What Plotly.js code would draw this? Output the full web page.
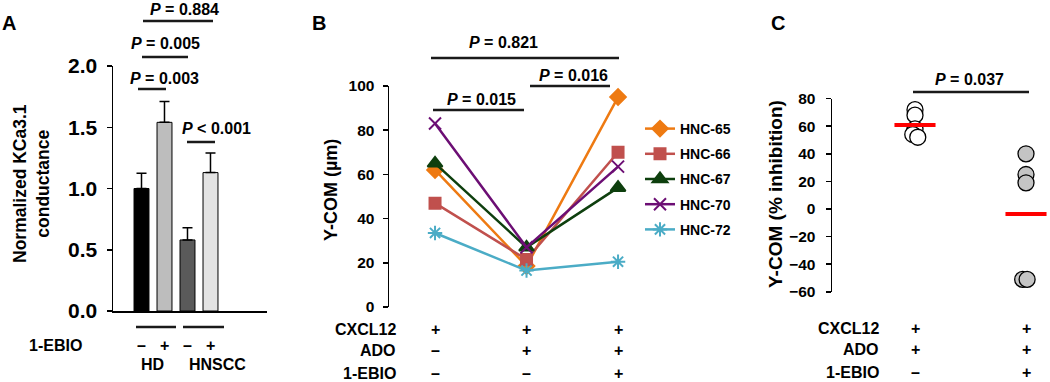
<!DOCTYPE html>
<html><head><meta charset="utf-8">
<script src="https://cdn.plot.ly/plotly-3.0.1.min.js"></script>
<style>html,body{margin:0;padding:0;background:#fff}#chart{width:1050px;height:382px}</style>
</head><body><div id="chart"></div>
<script>
// ---------- Panel A data ----------
const groupsA = ['HD', 'HNSCC'];
const ebioA = ['–', '+', '–', '+'];
const conductance = [1.00, 1.54, 0.58, 1.13];
const conductanceErr = [0.125, 0.17, 0.10, 0.16];
const ticksA = [0, 0.5, 1.0, 1.5, 2.0];
const pLabelsA = ['<i>P</i> = 0.884', '<i>P</i> = 0.005', '<i>P</i> = 0.003', '<i>P</i> < 0.001'];

// ---------- Panel B data ----------
const seriesNames = ['HNC-65', 'HNC-66', 'HNC-67', 'HNC-70', 'HNC-72'];
const hnc65 = [62, 18.5, 95];
const hnc66 = [47, 21.5, 70];
const hnc67 = [65, 27, 54];
const hnc70 = [83, 27, 63.5];
const hnc72 = [33.5, 16.5, 20.5];
const ticksB = [0, 20, 40, 60, 80, 100];
const rowLabels = ['CXCL12', 'ADO', '1-EBIO'];
const cxcl12B = ['+', '+', '+'];
const adoB = ['–', '+', '+'];
const ebioB = ['–', '–', '+'];
const pLabelsB = ['<i>P</i> = 0.821', '<i>P</i> = 0.015', '<i>P</i> = 0.016'];

// ---------- Panel C data ----------
const inhibitionAdo = [72, 68, 58, 54, 52];
const inhibitionAdoEbio = [40, 25, 19, -51, -51];
const jitterAdo = [0, 0, 0, -0.02, 0.025];
const jitterAdoEbio = [0, 0, 0, -0.03, 0.01];
const ticksC = [-60, -40, -20, 0, 20, 40, 60, 80];
const cxcl12C = ['+', '+'];
const adoC = ['+', '+'];
const ebioC = ['–', '+'];
const pLabelsC = ['<i>P</i> = 0.037'];

// ---------- helpers (pixel -> paper) ----------
const W = 1050, H = 382;
const X = px => px / W;
const Y = py => 1 - py / H;
const FONT = 'Liberation Sans, Arial, Helvetica, sans-serif';
const mean = a => a.reduce((s, v) => s + v, 0) / a.length;
const boldTick = (v, d) => '<b>' + (v < 0 ? '−' + Math.abs(v).toFixed(d) : v.toFixed(d)) + '</b>';

const traces = [];

// Panel A bars
const idxA = conductance.map((_, i) => i);
traces.push({
  type: 'bar', x: idxA, y: conductance, xaxis: 'x', yaxis: 'y', width: 0.65,
  marker: {color: ['#000000', '#bdbdbd', '#5a5a5a', '#e3e3e3'], line: {color: '#000', width: 1}},
  error_y: {type: 'data', symmetric: false, array: conductanceErr, arrayminus: conductance.map(() => 0),
            color: '#000', thickness: 1.5, width: 5},
  showlegend: false, hoverinfo: 'skip'
});

// Panel B lines
const xB = [1, 2, 3];
const seriesB = [hnc65, hnc66, hnc67, hnc70, hnc72];
const colorsB = ['#EE7A12', '#C0504D', '#0E3F0E', '#6C0E74', '#4BACC6'];
const symbolsB = ['diamond', 'square', 'triangle-up', 'x-thin-open', 'asterisk-open'];
const sizesB = [12, 11, 13, 12, 12];
seriesB.forEach((s, i) => {
  traces.push({
    type: 'scatter', mode: 'lines+markers', x: xB, y: s, xaxis: 'x2', yaxis: 'y2',
    name: '<b>' + seriesNames[i] + '</b>', legendgroup: 'g' + i, cliponaxis: false,
    line: {color: colorsB[i], width: 2.5},
    marker: {symbol: symbolsB[i], size: sizesB[i], color: colorsB[i], line: {color: colorsB[i], width: 2}},
    hoverinfo: 'skip'
  });
});

// Panel C points
traces.push({
  type: 'scatter', mode: 'markers', x: inhibitionAdo.map((_, i) => 1 + jitterAdo[i]), y: inhibitionAdo,
  xaxis: 'x3', yaxis: 'y3', showlegend: false, cliponaxis: false,
  marker: {size: 16, color: '#ffffff', line: {color: '#000', width: 1.3}}, hoverinfo: 'skip'
});
traces.push({
  type: 'scatter', mode: 'markers', x: inhibitionAdoEbio.map((_, i) => 2 + jitterAdoEbio[i]), y: inhibitionAdoEbio,
  xaxis: 'x3', yaxis: 'y3', showlegend: false, cliponaxis: false,
  marker: {size: 16, color: '#c4c4c4', line: {color: '#000', width: 1.3}}, hoverinfo: 'skip'
});
// mean lines
[[1, inhibitionAdo], [2, inhibitionAdoEbio]].forEach(([c, arr]) => {
  const m = mean(arr);
  traces.push({
    type: 'scatter', mode: 'lines', x: [c - 0.185, c + 0.185], y: [m, m], xaxis: 'x3', yaxis: 'y3',
    showlegend: false, cliponaxis: false, line: {color: '#ff0000', width: 4}, hoverinfo: 'skip'
  });
});

// ---------- annotations & shapes ----------
const ann = [];
const shapes = [];
const fnt = size => ({family: FONT, size: size, color: '#000', weight: 'bold'});
function txt(x, y, text, size, opts) {
  ann.push(Object.assign({x: x, y: y, xref: 'paper', yref: 'paper', text: '<b>' + text + '</b>', showarrow: false,
    xanchor: 'center', yanchor: 'middle', font: fnt(size)}, opts || {}));
}
function hline(x0, x1, y, w) {
  shapes.push({type: 'line', xref: 'paper', yref: 'paper', x0: X(x0), x1: X(x1), y0: Y(y), y1: Y(y),
    line: {color: '#1a1a1a', width: w || 2.5}});
}
function axTxt(xref, x, y, text, opts) {
  ann.push(Object.assign({x: x, y: y, xref: xref, yref: 'paper', text: '<b>' + text + '</b>', showarrow: false,
    xanchor: 'center', yanchor: 'middle', font: fnt(16)}, opts || {}));
}

// panel letters
txt(X(9), Y(23), 'A', 20);
txt(X(319), Y(23), 'B', 20);
txt(X(778), Y(23), 'C', 20);

// axis titles
txt(X(31), Y(184), 'Normalized KCa3.1<br>conductance', 17.5, {textangle: -90});
txt(X(331), Y(190), 'Y-COM (µm)', 18, {textangle: -90});
txt(X(775), Y(194), 'Y-COM (% inhibition)', 19, {textangle: -90});

// P-values panel A
txt(X(184), Y(10), pLabelsA[0], 16); hline(143, 213, 21);
txt(X(165), Y(43), pLabelsA[1], 16); hline(142, 188, 57);
txt(X(164), Y(78), pLabelsA[2], 16); hline(138, 166, 89);
txt(X(216), Y(128), pLabelsA[3], 16); hline(187, 215, 142);
// P-values panel B
txt(X(503), Y(42), pLabelsB[0], 16); hline(431, 619, 58);
txt(X(481), Y(99), pLabelsB[1], 16); hline(433, 524, 110);
txt(X(573), Y(75), pLabelsB[2], 16); hline(530, 610, 86);
// P-value panel C
txt(X(969), Y(79), pLabelsC[0], 16); hline(913, 1029, 92);

// Panel A treatment rows
txt(X(55), Y(345), '1-EBIO', 16);
ebioA.forEach((s, i) => axTxt('x', i, Y(345), s));
axTxt('x', 0.5, Y(364), groupsA[0]);
axTxt('x', 2, Y(364), groupsA[1], {xanchor: 'left'});
hline(136, 176, 327, 2.5);
hline(183, 224, 327, 2.5);

// Panel B treatment rows
const rowsY_B = [329, 350, 373];
[cxcl12B, adoB, ebioB].forEach((row, r) => {
  txt(X(398), Y(rowsY_B[r]), rowLabels[r], 16, {xanchor: 'right'});
  row.forEach((s, i) => axTxt('x2', xB[i], Y(rowsY_B[r]), s));
});
// Panel C treatment rows
const rowsY_C = [328, 349, 372];
[cxcl12C, adoC, ebioC].forEach((row, r) => {
  txt(X(881), Y(rowsY_C[r]), rowLabels[r], 16, {xanchor: 'right'});
  row.forEach((s, i) => axTxt('x3', i + 1, Y(rowsY_C[r]), s));
});

const hidden = {showline: false, showticklabels: false, showgrid: false, zeroline: false, ticks: '', fixedrange: true};
const yax = (size, extra) => Object.assign({
  showline: true, linecolor: '#000', linewidth: 1.5, ticks: 'outside', ticklen: 5, tickwidth: 1.5, tickcolor: '#000',
  showgrid: false, zeroline: false, fixedrange: true, tickmode: 'array',
  tickfont: fnt(size)
}, extra);

const layout = {
  width: W, height: H, margin: {l: 0, r: 0, t: 0, b: 0},
  paper_bgcolor: '#fff', plot_bgcolor: 'rgba(0,0,0,0)',
  font: {family: FONT, color: '#000', weight: 'bold'},
  xaxis: Object.assign({}, hidden, {domain: [X(113), X(267)], range: [-1.239, 5.457], showline: true, linecolor: '#000', linewidth: 1.5, anchor: 'y'}),
  yaxis: yax(21, {domain: [Y(311), Y(66)], range: [0, 2], tickvals: ticksA, ticktext: ticksA.map(v => boldTick(v, 1)), anchor: 'x', ticklabelstandoff: 5}),
  xaxis2: Object.assign({}, hidden, {domain: [X(389), X(640)], range: [0.497, 3.24], anchor: 'y2'}),
  yaxis2: yax(15.5, {domain: [Y(307), Y(86)], range: [0, 100], tickvals: ticksB, ticktext: ticksB.map(v => boldTick(v, 0)), anchor: 'x2', ticklabelstandoff: 5}),
  xaxis3: Object.assign({}, hidden, {domain: [X(832), X(1050)], range: [0.2523, 2.2162], anchor: 'y3'}),
  yaxis3: yax(15.5, {domain: [Y(291.8), Y(98.6)], range: [-60, 80], tickvals: ticksC, ticktext: ticksC.map(v => boldTick(v, 0)), anchor: 'x3', ticklabelstandoff: 7}),
  legend: {x: X(640), y: Y(113), xanchor: 'left', yanchor: 'top', bgcolor: 'rgba(0,0,0,0)',
           font: fnt(14), tracegroupgap: 4, itemwidth: 30},
  annotations: ann, shapes: shapes, bargap: 0
};

Plotly.newPlot('chart', traces, layout, {staticPlot: true, displayModeBar: false});
</script></body></html>
